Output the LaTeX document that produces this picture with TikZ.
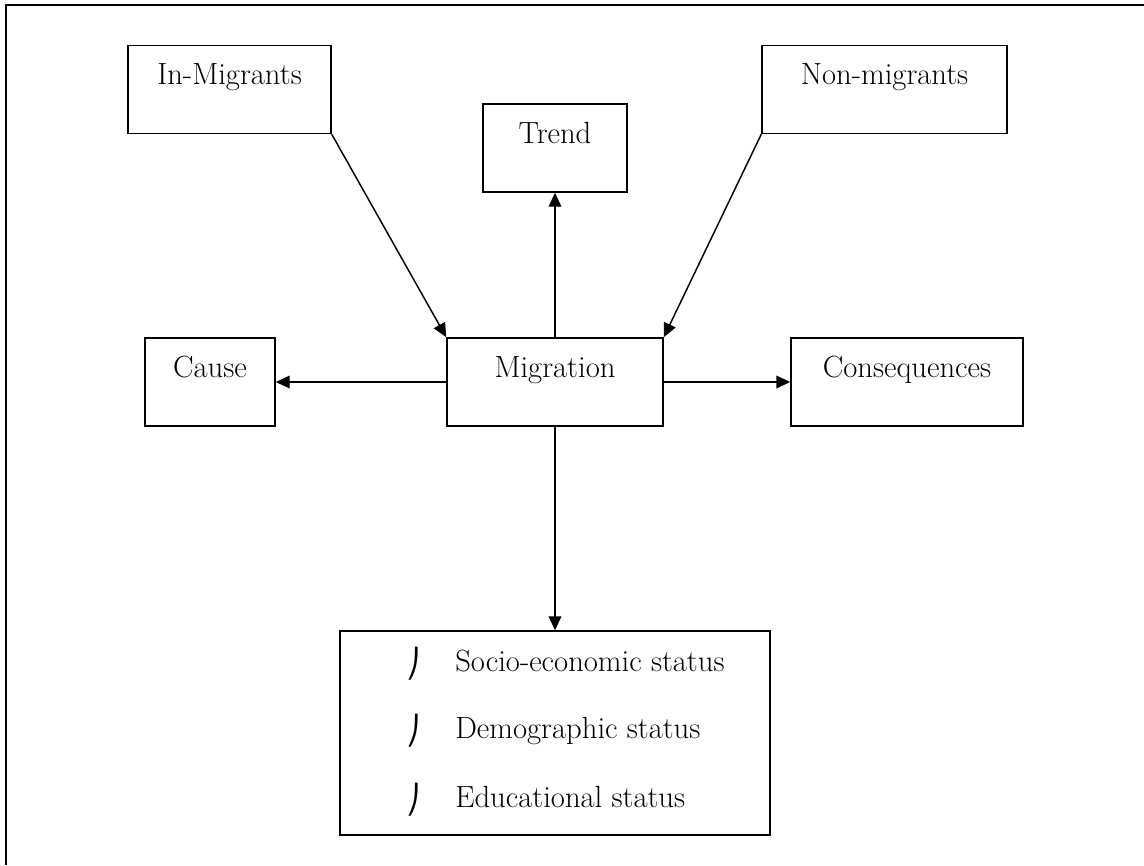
\documentclass[tikz,border=0pt]{standalone}
\usepackage{fontspec}
\newfontfamily\symfont{DejaVu Sans}
\usetikzlibrary{arrows.meta}
\begin{document}
\begin{tikzpicture}[x=0.75pt,y=-0.75pt,
  every node/.style={font=\fontsize{23}{27}\selectfont},
  mbox/.style={draw, line width=1.1pt, inner sep=0pt, text height=29.25pt, text depth=36.75pt, align=center},
  conn/.style={line width=1.1pt, -{Triangle[length=10.5pt,width=9.5pt]}},
  item/.style={anchor=base west, inner sep=0pt},
  bul/.style={anchor=base, inner sep=0pt, font=\symfont\fontsize{21}{24}\selectfont}]
\useasboundingbox (0,0) rectangle (1144,865);
\draw[line width=1.1pt] (6,865) -- (6,5) -- (1144,5);
\node[mbox, minimum width=152.25pt] (in) at (229.5,89.5) {In-Migrants};
\node[mbox, minimum width=108pt] (trend) at (555,148) {Trend};
\node[mbox, minimum width=183.75pt] (non) at (884.5,89.5) {Non-migrants};
\node[mbox, minimum width=97.5pt] (cause) at (210,382) {Cause};
\node[mbox, minimum width=162pt] (mig) at (555,382) {Migration};
\node[mbox, minimum width=174pt] (cons) at (907,382) {Consequences};
\node[draw, line width=1.1pt, minimum width=322.5pt, minimum height=153pt, inner sep=0pt] (status) at (555,733) {};
\node[bul] (b1) at (413,673) {⎠};
\node[bul] (b2) at (413,740) {⎠};
\node[bul] (b3) at (413,809) {⎠};
\node[item] (s1) at (455,671) {Socio-economic status};
\node[item] (s2) at (455,738) {Demographic status};
\node[item] (s3) at (455,807) {Educational status};
\draw[conn] (in.south east) -- (mig.north west);
\draw[conn] (non.south west) -- (mig.north east);
\draw[conn] (mig.north) -- (trend.south);
\draw[conn] (mig.west) -- (cause.east);
\draw[conn] (mig.east) -- (cons.west);
\draw[conn] (mig.south) -- (status.north);
\end{tikzpicture}
\end{document}
